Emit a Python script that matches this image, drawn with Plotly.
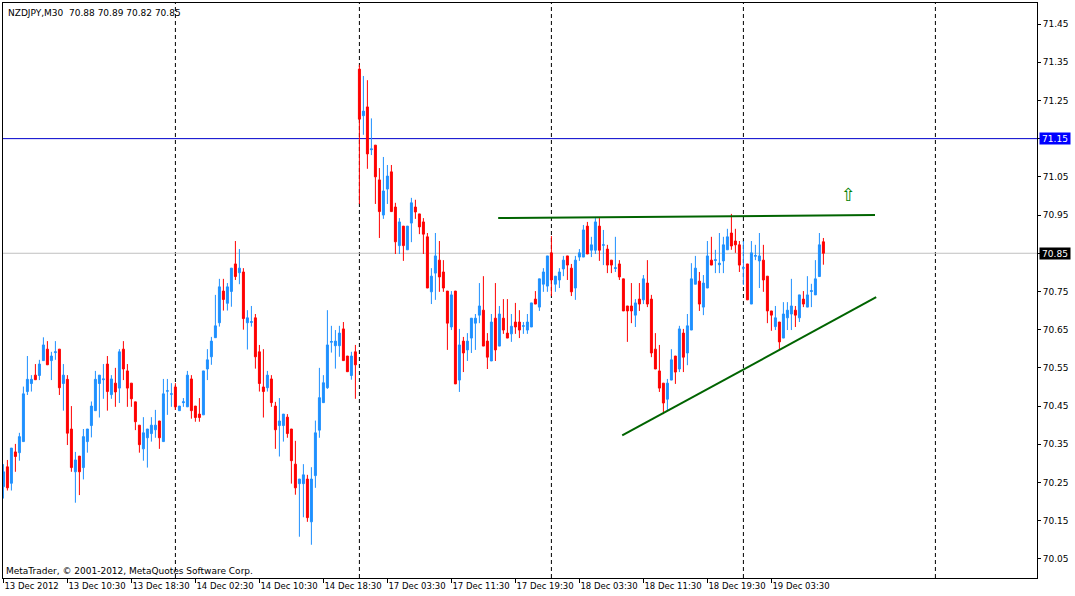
import plotly.graph_objects as go

SYMBOL_TEXT = "NZDJPY,M30\u00a0\u00a070.88 70.89 70.82 70.85"
COPYRIGHT = "MetaTrader, \u00a9 2001-2012, MetaQuotes Software Corp."

OPEN = [70.239, 70.291, 70.248, 70.330, 70.328, 70.357, 70.488, 70.509, 70.531, 70.530,
        70.569, 70.599, 70.569, 70.590, 70.599, 70.509, 70.520, 70.390, 70.278, 70.319,
        70.289, 70.357, 70.399, 70.438, 70.509, 70.519, 70.560, 70.480, 70.510, 70.497,
        70.599, 70.542, 70.510, 70.461, 70.400, 70.338, 70.367, 70.378, 70.388, 70.411,
        70.357, 70.489, 70.481, 70.500, 70.438, 70.459, 70.448, 70.521, 70.450, 70.429,
        70.427, 70.547, 70.579, 70.629, 70.668, 70.751, 70.719, 70.750, 70.822, 70.799,
        70.801, 70.668, 70.669, 70.681, 70.592, 70.500, 70.498, 70.521, 70.450, 70.399,
        70.399, 70.421, 70.390, 70.298, 70.247, 70.247, 70.259, 70.147, 70.268, 70.387,
        70.459, 70.498, 70.617, 70.608, 70.608, 70.652, 70.581, 70.530, 70.592, 71.332,
        71.210, 71.233, 71.121, 71.133, 71.042, 70.950, 71.018, 71.063, 70.971, 70.870,
        70.921, 70.859, 70.929, 70.971, 70.953, 70.932, 70.893, 70.749, 70.798, 70.832,
        70.801, 70.751, 70.657, 70.751, 70.518, 70.620, 70.597, 70.628, 70.667, 70.688,
        70.701, 70.620, 70.568, 70.680, 70.607, 70.680, 70.641, 70.639, 70.670, 70.670,
        70.659, 70.649, 70.657, 70.730, 70.709, 70.769, 70.764, 70.851, 70.769, 70.780,
        70.809, 70.843, 70.811, 70.759, 70.840, 70.840, 70.921, 70.858, 70.858, 70.921,
        70.871, 70.861, 70.832, 70.810, 70.822, 70.783, 70.712, 70.712, 70.688, 70.730,
        70.728, 70.772, 70.730, 70.599, 70.542, 70.510, 70.468, 70.518, 70.581, 70.547,
        70.641, 70.589, 70.649, 70.769, 70.777, 70.709, 70.759, 70.832, 70.831, 70.820,
        70.830, 70.859, 70.903, 70.882, 70.872, 70.811, 70.822, 70.717, 70.842, 70.830,
        70.832, 70.790, 70.699, 70.658, 70.670, 70.628, 70.681, 70.691, 70.701, 70.681,
        70.730, 70.709, 70.750, 70.741, 70.789, 70.880]

HIGH = [70.298, 70.309, 70.340, 70.351, 70.380, 70.501, 70.581, 70.531, 70.560, 70.571,
        70.630, 70.620, 70.592, 70.620, 70.599, 70.560, 70.531, 70.450, 70.330, 70.319,
        70.390, 70.390, 70.462, 70.542, 70.531, 70.560, 70.581, 70.531, 70.550, 70.599,
        70.620, 70.560, 70.510, 70.461, 70.400, 70.421, 70.390, 70.421, 70.440, 70.411,
        70.521, 70.521, 70.510, 70.510, 70.450, 70.471, 70.542, 70.531, 70.450, 70.471,
        70.542, 70.599, 70.631, 70.741, 70.783, 70.783, 70.772, 70.811, 70.882, 70.861,
        70.811, 70.701, 70.712, 70.691, 70.610, 70.599, 70.542, 70.531, 70.461, 70.471,
        70.429, 70.429, 70.390, 70.359, 70.259, 70.298, 70.270, 70.290, 70.412, 70.550,
        70.531, 70.701, 70.660, 70.649, 70.660, 70.670, 70.581, 70.592, 70.610, 71.343,
        71.314, 71.303, 71.203, 71.133, 71.073, 71.102, 71.081, 71.081, 70.982, 70.942,
        70.921, 70.921, 70.995, 70.990, 70.953, 70.942, 70.903, 70.811, 70.903, 70.882,
        70.832, 70.751, 70.751, 70.751, 70.652, 70.631, 70.641, 70.680, 70.691, 70.772,
        70.790, 70.641, 70.691, 70.772, 70.712, 70.730, 70.730, 70.691, 70.720, 70.701,
        70.670, 70.691, 70.720, 70.751, 70.783, 70.811, 70.843, 70.895, 70.790, 70.811,
        70.843, 70.843, 70.822, 70.843, 70.861, 70.924, 70.932, 70.893, 70.942, 70.942,
        70.911, 70.872, 70.832, 70.893, 70.832, 70.783, 70.712, 70.772, 70.730, 70.772,
        70.793, 70.832, 70.741, 70.641, 70.610, 70.510, 70.521, 70.599, 70.581, 70.660,
        70.652, 70.691, 70.824, 70.843, 70.801, 70.793, 70.882, 70.893, 70.859, 70.903,
        70.893, 70.914, 70.953, 70.914, 70.882, 70.882, 70.822, 70.882, 70.872, 70.903,
        70.872, 70.790, 70.699, 70.712, 70.670, 70.722, 70.722, 70.783, 70.712, 70.741,
        70.751, 70.790, 70.770, 70.832, 70.903, 70.890]

LOW = [70.208, 70.229, 70.229, 70.278, 70.307, 70.357, 70.479, 70.488, 70.519, 70.518,
       70.569, 70.558, 70.518, 70.571, 70.479, 70.438, 70.348, 70.278, 70.197, 70.217,
       70.258, 70.328, 70.368, 70.438, 70.420, 70.469, 70.438, 70.469, 70.448, 70.458,
       70.518, 70.448, 70.448, 70.387, 70.328, 70.307, 70.289, 70.357, 70.367, 70.338,
       70.357, 70.427, 70.448, 70.440, 70.438, 70.448, 70.448, 70.417, 70.409, 70.409,
       70.427, 70.518, 70.558, 70.629, 70.658, 70.700, 70.700, 70.710, 70.780, 70.769,
       70.650, 70.598, 70.658, 70.548, 70.488, 70.420, 70.488, 70.448, 70.338, 70.318,
       70.357, 70.367, 70.247, 70.218, 70.108, 70.159, 70.147, 70.087, 70.236, 70.367,
       70.459, 70.495, 70.590, 70.548, 70.579, 70.569, 70.540, 70.519, 70.469, 70.979,
       71.160, 71.071, 71.107, 70.979, 70.890, 70.940, 70.979, 70.959, 70.848, 70.848,
       70.830, 70.859, 70.879, 70.940, 70.900, 70.848, 70.759, 70.717, 70.728, 70.749,
       70.749, 70.597, 70.649, 70.508, 70.487, 70.539, 70.568, 70.589, 70.597, 70.667,
       70.607, 70.547, 70.568, 70.568, 70.607, 70.639, 70.628, 70.618, 70.639, 70.628,
       70.639, 70.639, 70.657, 70.717, 70.699, 70.749, 70.749, 70.738, 70.749, 70.759,
       70.790, 70.780, 70.738, 70.728, 70.830, 70.840, 70.848, 70.840, 70.848, 70.830,
       70.819, 70.798, 70.798, 70.801, 70.780, 70.699, 70.618, 70.667, 70.657, 70.699,
       70.717, 70.709, 70.578, 70.547, 70.487, 70.429, 70.437, 70.518, 70.508, 70.539,
       70.539, 70.557, 70.649, 70.769, 70.699, 70.688, 70.759, 70.819, 70.798, 70.798,
       70.798, 70.859, 70.859, 70.851, 70.801, 70.767, 70.728, 70.717, 70.832, 70.759,
       70.749, 70.667, 70.647, 70.649, 70.599, 70.628, 70.649, 70.649, 70.657, 70.670,
       70.709, 70.709, 70.709, 70.741, 70.789, 70.820]

CLOSE = [70.278, 70.236, 70.340, 70.318, 70.370, 70.482, 70.520, 70.520, 70.519, 70.560,
         70.610, 70.558, 70.581, 70.592, 70.498, 70.531, 70.379, 70.289, 70.309, 70.278,
         70.370, 70.390, 70.450, 70.520, 70.531, 70.521, 70.488, 70.521, 70.487, 70.592,
         70.547, 70.497, 70.469, 70.409, 70.349, 70.380, 70.390, 70.400, 70.400, 70.367,
         70.482, 70.490, 70.482, 70.448, 70.450, 70.461, 70.531, 70.438, 70.420, 70.420,
         70.542, 70.571, 70.620, 70.660, 70.762, 70.729, 70.762, 70.811, 70.789, 70.811,
         70.679, 70.681, 70.671, 70.579, 70.509, 70.488, 70.531, 70.459, 70.388, 70.411,
         70.429, 70.378, 70.307, 70.236, 70.259, 70.270, 70.158, 70.259, 70.380, 70.472,
         70.511, 70.610, 70.619, 70.620, 70.641, 70.569, 70.540, 70.581, 70.558, 71.201,
         71.222, 71.110, 71.123, 71.050, 70.959, 71.013, 71.052, 70.959, 70.880, 70.932,
         70.870, 70.921, 70.982, 70.958, 70.919, 70.900, 70.759, 70.790, 70.843, 70.788,
         70.759, 70.667, 70.741, 70.508, 70.610, 70.589, 70.620, 70.680, 70.680, 70.712,
         70.607, 70.578, 70.670, 70.597, 70.691, 70.649, 70.628, 70.659, 70.657, 70.649,
         70.660, 70.670, 70.720, 70.717, 70.783, 70.801, 70.843, 70.780, 70.790, 70.801,
         70.832, 70.819, 70.749, 70.832, 70.851, 70.911, 70.848, 70.872, 70.932, 70.858,
         70.872, 70.819, 70.819, 70.812, 70.788, 70.699, 70.699, 70.699, 70.720, 70.717,
         70.783, 70.717, 70.589, 70.547, 70.497, 70.458, 70.510, 70.571, 70.539, 70.652,
         70.578, 70.660, 70.783, 70.811, 70.717, 70.772, 70.843, 70.819, 70.833, 70.824,
         70.872, 70.893, 70.869, 70.872, 70.819, 70.812, 70.728, 70.851, 70.844, 70.843,
         70.780, 70.699, 70.688, 70.681, 70.618, 70.691, 70.701, 70.712, 70.688, 70.741,
         70.717, 70.741, 70.752, 70.783, 70.872, 70.850]

BARS = list(range(len(OPEN)))

X_TICK_BARS = [0, 16, 32, 48, 64, 80, 96, 112, 128, 144, 160, 176, 192]
X_TICK_TEXT = ["13 Dec 2012", "13 Dec 10:30", "13 Dec 18:30", "14 Dec 02:30",
               "14 Dec 10:30", "14 Dec 18:30", "17 Dec 03:30", "17 Dec 11:30",
               "17 Dec 19:30", "18 Dec 03:30", "18 Dec 11:30", "18 Dec 19:30",
               "19 Dec 03:30"]
Y_TICKS = [70.05, 70.15, 70.25, 70.35, 70.45, 70.55, 70.65, 70.75, 70.85,
           70.95, 71.05, 71.15, 71.25, 71.35, 71.45]
DAY_SEPARATORS = [43, 89, 137, 185, 233]

H_LINE_PRICE = 71.15
BID_PRICE = 70.85
UPPER_TL_X = [123.7, 217.9]
UPPER_TL_Y = [70.942, 70.950]
LOWER_TL_X = [154.7, 218.2]
LOWER_TL_Y = [70.373, 70.735]
ARROW_BAR = 211.2
ARROW_PRICE = 71.003

X_RANGE = [-0.1, 258.4]
Y_RANGE = [70.0, 71.505]

BLUE = "#1E90FF"
RED = "#FF0000"
GREEN = "#006400"
FONT = "DejaVu Sans"

fig = go.Figure()
fig.add_trace(go.Candlestick(
    x=BARS, open=OPEN, high=HIGH, low=LOW, close=CLOSE,
    increasing=dict(line=dict(color=BLUE, width=1), fillcolor=BLUE),
    decreasing=dict(line=dict(color=RED, width=1), fillcolor=RED),
    whiskerwidth=0, showlegend=False, hoverinfo="skip",
))
fig.add_trace(go.Scatter(x=UPPER_TL_X, y=UPPER_TL_Y, mode="lines",
                         line=dict(color=GREEN, width=2), showlegend=False, hoverinfo="skip"))
fig.add_trace(go.Scatter(x=LOWER_TL_X, y=LOWER_TL_Y, mode="lines",
                         line=dict(color=GREEN, width=2), showlegend=False, hoverinfo="skip"))

shapes = []
for d in DAY_SEPARATORS:
    shapes.append(dict(type="line", xref="x", yref="paper", x0=d, x1=d, y0=0, y1=1,
                       line=dict(color="black", width=1, dash="4px,3px"), layer="below"))
shapes.append(dict(type="line", xref="paper", yref="y", x0=0, x1=1, y0=H_LINE_PRICE,
                   y1=H_LINE_PRICE, line=dict(color="#0000CC", width=1), layer="below"))
shapes.append(dict(type="line", xref="paper", yref="y", x0=0, x1=1, y0=BID_PRICE,
                   y1=BID_PRICE, line=dict(color="#C0C0C0", width=1), layer="below"))

annotations = [
    dict(xref="paper", yref="paper", x=0, y=1, xanchor="left", yanchor="top",
         xshift=3, yshift=-3, text=SYMBOL_TEXT, showarrow=False,
         font=dict(family=FONT, size=9, color="black")),
    dict(xref="paper", yref="paper", x=0, y=0, xanchor="left", yanchor="bottom",
         xshift=1, yshift=0, text=COPYRIGHT, showarrow=False,
         font=dict(family=FONT, size=9, color="black")),
    dict(xref="paper", yref="y", x=1, y=H_LINE_PRICE, xanchor="left", yanchor="middle",
         xshift=2, text=f"{H_LINE_PRICE:.2f}", showarrow=False, bgcolor="#0000FF",
         width=30, height=11, align="center", borderpad=0,
         font=dict(family=FONT, size=9, color="white")),
    dict(xref="paper", yref="y", x=1, y=BID_PRICE, xanchor="left", yanchor="middle",
         xshift=2, text=f"{BID_PRICE:.2f}", showarrow=False, bgcolor="#000000",
         width=30, height=11, align="center", borderpad=0,
         font=dict(family=FONT, size=9, color="white")),
    dict(xref="x", yref="y", x=ARROW_BAR, y=ARROW_PRICE, text="\u21e7", showarrow=False,
         font=dict(family=FONT, size=18, color="#008000")),
]

covered = {H_LINE_PRICE, BID_PRICE}
y_ticktext = ["" if v in covered else f"{v:.2f}" for v in Y_TICKS]

fig.update_layout(
    width=1075, height=596,
    margin=dict(l=3, r=38, t=3, b=18, pad=0, autoexpand=False),
    paper_bgcolor="white", plot_bgcolor="white",
    shapes=shapes, annotations=annotations,
    boxgap=0.3,
    xaxis=dict(range=X_RANGE, rangeslider=dict(visible=False), showgrid=False,
               zeroline=False, showline=True, linecolor="black", linewidth=1, mirror=True,
               tickmode="array", tickvals=X_TICK_BARS, ticktext=X_TICK_TEXT,
               ticks="outside", ticklen=4, tickcolor="black", tickangle=0,
               automargin=False, ticklabelposition="outside right",
               tickfont=dict(family=FONT, size=8.5, color="black")),
    yaxis=dict(range=Y_RANGE, side="right", showgrid=False, zeroline=False,
               showline=True, linecolor="black", linewidth=1, mirror=True,
               tickmode="array", tickvals=Y_TICKS, ticktext=y_ticktext,
               ticks="outside", ticklen=3, tickcolor="black", automargin=False,
               tickfont=dict(family=FONT, size=9, color="black")),
    hovermode=False,
)

fig.write_html("out.html", config={"displayModeBar": False, "staticPlot": True},
               post_script="document.body.style.margin='0';")
